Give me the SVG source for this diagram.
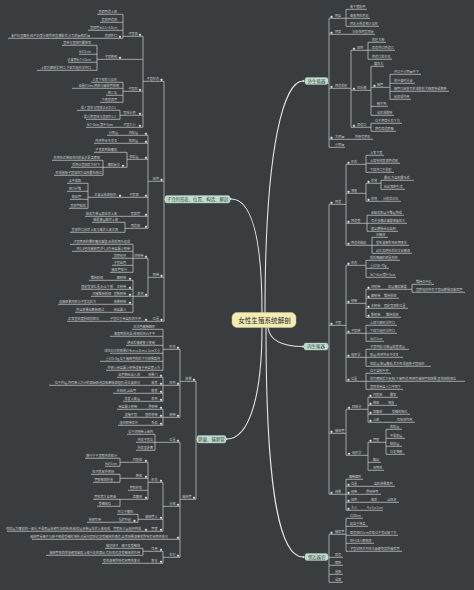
<svg xmlns="http://www.w3.org/2000/svg" width="474" height="590" viewBox="0 0 474 590">
<style>
.t{font-family:"Noto Sans CJK SC","Noto Sans",sans-serif;font-size:3.1px;fill:#c6cacb}
.e{text-anchor:end}
.d{fill:#f2f2f2;stroke:#7f8585;stroke-width:0.3}
.c{fill:none;stroke:#cdd1cf;stroke-width:0.7}
.cv{fill:none;stroke:#e2e5e3;stroke-width:1.1;stroke-linecap:round}
.b{fill:#c4dccf;stroke:#a7c6b5;stroke-width:0.4}
.bt{font-family:"Noto Sans CJK SC","Noto Sans",sans-serif;font-size:4.4px;fill:#2e4a3c;text-anchor:middle}
.m{fill:#f3ecb4;stroke:#d8cb85;stroke-width:0.5}
.mt{font-family:"Noto Sans CJK SC","Noto Sans",sans-serif;font-size:6.6px;fill:#2a2a2a;text-anchor:middle}
</style>
<rect width="474" height="590" fill="#393d40"/>
<g id="connectors">
<g id="curves">
<path class="cv" d="M265 312.5C265 140 285 81 303 81"/>
<path class="cv" d="M262 312.5C262 240 252 199 231 199"/>
<path class="cv" d="M268 327.5C270 342 285 346.5 303 346.5"/>
<path class="cv" d="M262 327.5C262 400 248 439 227 439"/>
<path class="cv" d="M266 327.5C266 470 276 557 303 557"/>
</g>
<g id="tree-lines" transform="translate(0,2.3)">
<path class="c" d="M328 81H329M329 16V145M329 16H346M346 7V24M346 7H367M346 16H370M346 24H379M329 32H375M329 86H351M351 48V125M351 48H368M368 40V57M368 40H386M368 48H395M368 57H392M351 88H371M371 64V113M371 64H384M371 85H390M390 72V97M390 72H421M390 81H415M390 89H449M390 97H411M371 104H388M371 113H394M351 125H371M371 121V129M371 121H402M371 129H396M329 137H373M329 145H345"/>
<path class="c" d="M328 344H329M329 202V492M329 202H346M346 162V243M346 162H366M366 153V170M366 153H384M366 161H400M366 170H394M346 191H366M366 181V199M366 181H381M381 178V187M381 178H414M381 187H405M366 199H401M346 221H367M367 213V229M367 213H404M367 221H407M367 229H398M346 243H372M372 235V251M372 235H388M372 243H409M372 251H412"/>
<path class="c" d="M329 323H346M346 263V379M346 263H366M366 258V275M366 258H400M366 266H389M366 275H396M346 301H366M366 287V315M366 287H412M412 282V290M412 282H434M412 290H465M366 296H399M366 306H408M366 315H401M346 331H366M366 323V339M366 323H397M366 331H397M366 339H384M346 355H366M366 347V364M366 347H409M366 355H403M366 364H431M346 379H366M366 371V387M366 371H391M366 379H465M366 387H403"/>
<path class="c" d="M329 431H346M346 407V453M346 407H368M368 395V420M368 395H398M368 403H397M368 412H410M368 420H415M346 453H368M368 440V468M368 440H386M386 427V452M386 427H402M386 436H405M386 444H402M386 452H405M368 460H381M368 468H384M329 492H346M346 477V508M346 477H363M346 484H395M346 492H381M346 500H399M346 508H383"/>
<path class="c" d="M328 555H329M329 532V580M329 532H346M346 516V549M346 516H363M346 524H368M346 533H398M346 541H374M346 549H402M329 555H343M329 563H343M329 572H343M329 580H343"/>
<path class="c" d="M164 79V319M164 197H165M143 79H164M143 34V125M123 34H143M123 12V36M97 12H123M100 20H123M88 28H123M8 36H123M97 57H143M97 43V68M62 43H97M79 52H97M68 60H97M37 68H97M123 89H143M123 80V100M91 80H123M72 86H123M106 93H123M100 100H123M120 113H143M120 108V117M77 108H120M86 117H120M86 125H143"/>
<path class="c" d="M148 179H164M148 133V226M107 133H148M94 141H148M127 157H148M127 150V165M94 150H127M103 165H127M103 158V173M52 158H103M71 165H103M54 173H103M88 195H148M88 181V206M67 181H88M67 189H88M70 197H88M69 206H88M85 214H148M125 226H148M125 220V230M92 220H125M70 230H125"/>
<path class="c" d="M148 275H164M148 256V294M133 256H148M133 242V270M70 242H133M72 249H133M112 256H133M112 263H133M110 270H133M133 294H148M133 278V310M89 278H133M81 287H133M91 294H133M58 302H133M75 310H133M67 319H164"/>
<path class="c" d="M196 379V497M196 437H197M180 379H196M180 347V415M163 347H180M163 327V368M132 327H163M110 334H163M126 343H163M110 351H163M100 359H163M106 368H163M163 383H180M163 375V399M117 375H163M49 383H163M113 391H163M123 399H163M163 415H180M163 407V423M117 407H163M123 415H163M118 423H163"/>
<path class="c" d="M180 497H196M180 440V555M155 440H180M155 432V448M127 432H155M136 440H155M136 448H155M163 504H180M163 480V529M148 480H163M148 460V497M120 460H148M120 456V464M85 456H120M105 464H120M120 476H148M120 472V480M91 472H120M93 480H120M128 488H148M120 497H148M120 497V504M93 497H120M97 504H120M138 517H163M138 512V520M117 512H138M87 520H138M7 529H163M32 537H180M163 555H180M163 549V561M143 549H163M143 546V553M105 546H143M46 553H143M102 561H163"/>
</g>
</g>

<g id="center"><rect class="m" x="232" y="312.5" width="64" height="15" rx="5"/><text class="mt" x="264.5" y="322.6">女性生殖系统解剖</text></g>

<g id="b-wsz"><rect class="b" x="305" y="77.5" width="23" height="7" rx="2"/><text class="bt" x="316.5" y="82.6">外生殖器</text><circle class="d" cx="303.5" cy="81" r="1.1"/></g>
<g id="b-nsz"><rect class="b" x="304" y="343" width="24" height="7" rx="2"/><text class="bt" x="316" y="348.1">内生殖器</text><circle class="d" cx="303" cy="346.5" r="1.1"/></g>
<g id="b-ljqg"><rect class="b" x="305" y="553.5" width="23" height="7" rx="2"/><text class="bt" x="316.5" y="558.6">邻近器官</text><circle class="d" cx="303.5" cy="557" r="1.1"/></g>
<g id="b-zg"><rect class="b" x="165" y="195.5" width="65" height="7.5" rx="2"/><text class="bt" x="197.5" y="200.8">子宫的形态、位置、构造、解剖</text><circle class="d" cx="230.5" cy="199" r="1.1"/></g>
<g id="b-lc"><rect class="b" x="197" y="435.5" width="29" height="7.5" rx="2"/><text class="bt" x="211.5" y="440.8">卵巢、输卵管</text><circle class="d" cx="226.5" cy="439" r="1.1"/></g>

<g id="n-yf"><circle class="d" cx="331.5" cy="16.8" r="1.1"/><text class="t" x="335" y="17.1">阴阜</text></g>
<g id="n-yf1"><text class="t" x="350" y="8.1">皮下脂肪厚</text></g>
<g id="n-yf2"><text class="t" x="350" y="17.1">青春期生阴毛</text></g>
<g id="n-yf3"><text class="t" x="350" y="25.1">阴毛分布呈倒三角形</text></g>
<g id="n-yd"><circle class="d" cx="331.5" cy="32.8" r="1.1"/><text class="t" x="335" y="33.1">阴蒂</text></g>
<g id="n-yd1"><text class="t" x="352" y="33.1">与男性阴茎同源</text></g>
<g id="n-ydqt"><circle class="d" cx="331.5" cy="86.8" r="1.1"/><text class="t" x="335" y="87.1">阴道前庭</text></g>
<g id="n-qt1"><circle class="d" cx="354" cy="48.8" r="1.1"/><text class="t" x="357" y="49.1">结构</text></g>
<g id="n-qt1a"><text class="t" x="372" y="41.1">前庭大腺</text></g>
<g id="n-qt1b"><text class="t" x="372" y="49.1">尿道外口阴道口</text></g>
<g id="n-qt1c"><text class="t" x="372" y="58.1">阴道口处女膜</text></g>
<g id="n-qt2"><circle class="d" cx="354" cy="88.8" r="1.1"/><text class="t" x="357" y="89.1">巴氏腺</text></g>
<g id="n-qt2a"><text class="t" x="374" y="65.1">黄豆大</text></g>
<g id="n-qt2b"><circle class="d" cx="374.5" cy="85.8" r="1.1"/><text class="t" x="377" y="86.1">腺管</text></g>
<g id="n-qt2b1"><text class="t" x="394" y="73.1">开口于小阴唇中下</text></g>
<g id="n-qt2b2"><text class="t" x="394" y="82.1">性兴奋时分泌</text></g>
<g id="n-qt2b3"><text class="t" x="394" y="90.1">腺管口闭塞可形成前庭大腺囊肿或脓肿</text></g>
<g id="n-qt2b4"><text class="t" x="394" y="98.1">起润滑作用</text></g>
<g id="n-qt2c"><text class="t" x="377" y="105.1">触不到</text></g>
<g id="n-qt2d"><text class="t" x="377" y="114.1">易形成脓肿</text></g>
<g id="n-qt3"><circle class="d" cx="354" cy="125.8" r="1.1"/><text class="t" x="357" y="126.1">尿道口</text></g>
<g id="n-qt3a"><text class="t" x="375" y="122.1">位于阴蒂头后下方</text></g>
<g id="n-qt3b"><text class="t" x="375" y="130.1">旁有尿道旁腺</text></g>
<g id="n-dyc"><circle class="d" cx="331.5" cy="137.8" r="1.1"/><text class="t" x="335" y="138.1">大阴唇</text></g>
<g id="n-dyc1"><text class="t" x="355" y="138.1">外侧有阴毛</text></g>
<g id="n-xyc"><text class="t" x="335" y="146.1">小阴唇</text></g>

<g id="n-yindao"><circle class="d" cx="331.5" cy="202.8" r="1.1"/><text class="t" x="335" y="203.1">阴道</text></g>
<g id="n-yd-xt"><circle class="d" cx="348.5" cy="162.8" r="1.1"/><text class="t" x="351" y="163.1">形态</text></g>
<g id="n-yd-xt1"><text class="t" x="370" y="154.1">上窄下宽</text></g>
<g id="n-yd-xt2"><text class="t" x="370" y="162.1">上端包绕宫颈阴道部</text></g>
<g id="n-yd-xt3"><text class="t" x="370" y="171.1">下端开口于前庭</text></g>
<g id="n-yd-ql"><circle class="d" cx="348.5" cy="191.8" r="1.1"/><text class="t" x="351" y="192.1">穹隆</text></g>
<g id="n-yd-hq"><circle class="d" cx="368.5" cy="181.8" r="1.1"/><text class="t" x="371" y="182.1">后穹</text></g>
<g id="n-yd-hq1"><text class="t" x="384" y="179.1">最深,为盆腔最低处</text></g>
<g id="n-yd-hq2"><text class="t" x="384" y="188.1">经此穿刺引流</text></g>
<g id="n-yd-qq"><circle class="d" cx="368.5" cy="199.8" r="1.1"/><text class="t" x="371" y="200.1">前穹</text></g>
<g id="n-yd-qq1"><text class="t" x="383" y="200.1">分前后左右</text></g>
<g id="n-yd-b"><circle class="d" cx="348.5" cy="221.8" r="1.1"/><text class="t" x="351" y="222.1">阴道壁</text></g>
<g id="n-yd-b1"><text class="t" x="371" y="214.1">由黏膜肌层纤维层构成</text></g>
<g id="n-yd-b2"><text class="t" x="371" y="222.1">有许多横纹皱襞伸展性大</text></g>
<g id="n-yd-b3"><text class="t" x="371" y="230.1">富含静脉丛易血肿</text></g>
<g id="n-yd-nm"><circle class="d" cx="348.5" cy="243.8" r="1.1"/><text class="t" x="351" y="244.1">阴道的黏膜</text></g>
<g id="n-yd-nm1"><text class="t" x="376" y="236.1">无腺体</text></g>
<g id="n-yd-nm2"><text class="t" x="376" y="244.1">受性激素影响周期变化</text></g>
<g id="n-yd-nm3"><text class="t" x="376" y="252.1">幼女及绝经后妇女易感染</text></g>

<g id="n-zigong"><circle class="d" cx="331.5" cy="323.8" r="1.1"/><text class="t" x="335" y="324.1">子宫</text></g>
<g id="n-zg-xt"><circle class="d" cx="348.5" cy="263.8" r="1.1"/><text class="t" x="351" y="264.1">形态</text></g>
<g id="n-zg-xt1"><text class="t" x="370" y="259.1">前后略扁的倒置梨形</text></g>
<g id="n-zg-xt2"><text class="t" x="370" y="267.1">重约50~70g</text></g>
<g id="n-zg-xt3"><text class="t" x="370" y="276.1">长7~8cm宽4~5cm</text></g>
<g id="n-zg-rd"><circle class="d" cx="348.5" cy="301.8" r="1.1"/><text class="t" x="351" y="302.1">韧带</text></g>
<g id="n-zg-kr"><circle class="d" cx="368.5" cy="287.8" r="1.1"/><text class="t" x="371" y="288.1">阔韧带</text></g>
<g id="n-zg-kr1"><text class="t" x="388" y="288.1">双层腹膜皱襞</text></g>
<g id="n-zg-kr1a"><text class="t" x="416" y="283.1">维持正中位</text></g>
<g id="n-zg-kr1b"><text class="t" x="416" y="291.1">宫旁组织内有子宫动静脉及输尿管</text></g>
<g id="n-zg-yr"><circle class="d" cx="368.5" cy="296.8" r="1.1"/><text class="t" x="371" y="297.1">圆韧带</text></g>
<g id="n-zg-yr1"><text class="t" x="384" y="297.1">维持前倾</text></g>
<g id="n-zg-zr"><circle class="d" cx="368.5" cy="306.8" r="1.1"/><text class="t" x="371" y="307.1">主韧带</text></g>
<g id="n-zg-zr1"><text class="t" x="384" y="307.1">固定宫颈的位置</text></g>
<g id="n-zg-dr"><circle class="d" cx="368.5" cy="315.8" r="1.1"/><text class="t" x="371" y="316.1">骶韧带</text></g>
<g id="n-zg-dr1"><text class="t" x="386" y="316.1">维持前倾</text></g>
<g id="n-zg-xb"><circle class="d" cx="348.5" cy="331.8" r="1.1"/><text class="t" x="351" y="332.1">子宫峡</text></g>
<g id="n-zg-xb1"><text class="t" x="370" y="324.1">上端为解剖学内口</text></g>
<g id="n-zg-xb2"><text class="t" x="370" y="332.1">下端为组织学内口</text></g>
<g id="n-zg-xb3"><text class="t" x="370" y="340.1">长约1cm</text></g>
<g id="n-zg-zz"><circle class="d" cx="348.5" cy="355.8" r="1.1"/><text class="t" x="351" y="356.1">组织学</text></g>
<g id="n-zg-zz1"><text class="t" x="370" y="348.1">子宫内膜:功能层和基底层</text></g>
<g id="n-zg-zz2"><text class="t" x="370" y="356.1">肌层:内环外纵中交叉</text></g>
<g id="n-zg-zz3"><text class="t" x="370" y="365.1">浆膜层:脏层腹膜,后方形成直肠子宫陷凹</text></g>
<g id="n-zg-wz"><circle class="d" cx="348.5" cy="379.8" r="1.1"/><text class="t" x="351" y="380.1">位置</text></g>
<g id="n-zg-wz1"><text class="t" x="370" y="372.1">位于盆腔中央</text></g>
<g id="n-zg-wz2"><text class="t" x="370" y="380.1">前为膀胱后为直肠,下接阴道,两侧有输卵管和卵巢,呈前倾前屈位</text></g>
<g id="n-zg-wz3"><text class="t" x="370" y="388.1">宫底在骨盆入口平面下</text></g>

<g id="n-shulg"><circle class="d" cx="331.5" cy="431.8" r="1.1"/><text class="t" x="335" y="432.1">输卵管</text></g>
<g id="n-sl-fb"><circle class="d" cx="349" cy="407.8" r="1.1"/><text class="t" x="352" y="408.1">四部分</text></g>
<g id="n-sl-jz"><circle class="d" cx="370.5" cy="395.8" r="1.1"/><text class="t" x="373" y="396.1">间质部</text></g>
<g id="n-sl-jz1"><text class="t" x="390" y="396.1">最窄</text></g>
<g id="n-sl-xb"><circle class="d" cx="370.5" cy="403.8" r="1.1"/><text class="t" x="373" y="404.1">峡部</text></g>
<g id="n-sl-xb1"><text class="t" x="388" y="404.1">细直</text></g>
<g id="n-sl-hf"><circle class="d" cx="370.5" cy="412.8" r="1.1"/><text class="t" x="373" y="413.1">壶腹部</text></g>
<g id="n-sl-hf1"><text class="t" x="392" y="413.1">受精的部位</text></g>
<g id="n-sl-sb"><circle class="d" cx="370.5" cy="420.8" r="1.1"/><text class="t" x="373" y="421.1">伞部</text></g>
<g id="n-sl-sb1"><text class="t" x="397" y="421.1">有拾卵作用</text></g>
<g id="n-sl-zz"><circle class="d" cx="349" cy="453.8" r="1.1"/><text class="t" x="352" y="454.1">组织学</text></g>
<g id="n-sl-gb"><circle class="d" cx="370.5" cy="440.8" r="1.1"/><text class="t" x="373" y="441.1">管壁</text></g>
<g id="n-sl-gb1"><text class="t" x="390" y="428.1">浆膜层</text></g>
<g id="n-sl-gb2"><text class="t" x="390" y="437.1">平滑肌层</text></g>
<g id="n-sl-gb3"><text class="t" x="390" y="445.1">黏膜层</text></g>
<g id="n-sl-gb4"><text class="t" x="390" y="453.1">纤毛细胞</text></g>
<g id="n-sl-rd"><text class="t" x="373" y="461.1">蠕动</text></g>
<g id="n-sl-zq"><text class="t" x="373" y="469.1">周期性</text></g>

<g id="n-luanchao"><circle class="d" cx="331.5" cy="492.8" r="1.1"/><text class="t" x="335" y="493.1">卵巢</text></g>
<g id="n-lc-xt"><text class="t" x="349" y="478.1">扁椭圆形</text></g>
<g id="n-lc-wz"><circle class="d" cx="348.5" cy="484.8" r="1.1"/><text class="t" x="351" y="485.1">位置</text></g>
<g id="n-lc-wz1"><text class="t" x="374" y="485.1">盆腔卵巢窝内</text></g>
<g id="n-lc-rd"><circle class="d" cx="348.5" cy="492.8" r="1.1"/><text class="t" x="351" y="493.1">韧带</text></g>
<g id="n-lc-rd1"><text class="t" x="366" y="493.1">悬韧带等</text></g>
<g id="n-lc-jg"><circle class="d" cx="348.5" cy="500.8" r="1.1"/><text class="t" x="351" y="501.1">结构</text></g>
<g id="n-lc-jg1"><text class="t" x="371" y="501.1">皮质</text></g>
<g id="n-lc-jg2"><text class="t" x="387" y="501.1">含卵泡</text></g>
<g id="n-lc-dx"><circle class="d" cx="348.5" cy="508.8" r="1.1"/><text class="t" x="351" y="509.1">大小</text></g>
<g id="n-lc-dx1"><text class="t" x="367" y="509.1">4×3×1cm</text></g>

<g id="n-snb"><circle class="d" cx="331.5" cy="532.8" r="1.1"/><text class="t" x="335" y="533.1">输尿管</text></g>
<g id="n-snb1"><text class="t" x="350" y="517.1">约30cm</text></g>
<g id="n-snb2"><text class="t" x="350" y="525.1">起自于肾盂</text></g>
<g id="n-snb3"><text class="t" x="350" y="534.1">距宫颈约2cm处穿过子宫动脉下方</text></g>
<g id="n-snb4"><text class="t" x="350" y="542.1">斜行进入膀胱底</text></g>
<g id="n-snb5"><text class="t" x="350" y="550.1">子宫切除术时应注意避免损伤输尿管</text></g>
<g id="n-nd"><text class="t" x="335" y="556.1">尿道</text></g>
<g id="n-pg"><text class="t" x="335" y="564.1">膀胱</text></g>
<g id="n-zc"><text class="t" x="335" y="573.1">直肠</text></g>
<g id="n-lw"><text class="t" x="335" y="581.1">阑尾</text></g>

<g id="n-zgxt"><circle class="d" cx="161.5" cy="79.8" r="1.1"/><text class="t e" x="159" y="80.1">子宫形态</text></g>
<g id="n-zgj"><circle class="d" cx="140" cy="34.8" r="1.1"/><text class="t e" x="137.5" y="35.1">子宫颈</text></g>
<g id="n-zgj1"><text class="t e" x="117" y="13.1">宫颈阴道上部</text></g>
<g id="n-zgj2"><text class="t e" x="117" y="21.1">宫颈阴道部</text></g>
<g id="n-zgj3"><text class="t e" x="117" y="29.1">宫颈管长2.5~3.0cm</text></g>
<g id="n-zgj4"><circle class="d" cx="120" cy="36.8" r="1.1"/><text class="t e" x="117" y="37.1">宫颈外口</text></g>
<g id="n-zgj4a"><text class="t e" x="90" y="37.1">未产妇呈圆形,经产妇受分娩影响呈横裂状,分为前唇和后唇</text></g>
<g id="n-xbu"><circle class="d" cx="120" cy="57.8" r="1.1"/><text class="t e" x="117" y="58.1">子宫峡部</text></g>
<g id="n-xbu1"><text class="t e" x="91" y="44.1">宫体与宫颈间最狭窄</text></g>
<g id="n-xbu2"><text class="t e" x="91" y="53.1">长约1cm</text></g>
<g id="n-xbu3"><text class="t e" x="91" y="61.1">孕末期长7~10cm</text></g>
<g id="n-xbu4"><text class="t e" x="91" y="69.1">上端为解剖学内口,下端为组织学内口</text></g>
<g id="n-gq"><circle class="d" cx="140" cy="89.8" r="1.1"/><text class="t e" x="137.5" y="90.1">子宫腔</text></g>
<g id="n-gq1"><text class="t e" x="117" y="81.1">上宽下窄的三角形</text></g>
<g id="n-gq2"><text class="t e" x="119" y="87.1">容量约5ml,两侧与输卵管相通</text></g>
<g id="n-gq3"><text class="t e" x="117" y="94.1">倒三角</text></g>
<g id="n-gq4"><text class="t e" x="117" y="101.1">下通宫颈管</text></g>
<g id="n-bl"><circle class="d" cx="140" cy="113.8" r="1.1"/><text class="t e" x="135.5" y="114.1">宫体比例</text></g>
<g id="n-bl1"><text class="t e" x="116" y="109.1">成人宫体与宫颈之比为2:1</text></g>
<g id="n-bl2"><text class="t e" x="116" y="118.1">婴儿期宫体与宫颈为1:2</text></g>
<g id="n-dxz"><circle class="d" cx="140" cy="125.8" r="1.1"/><text class="t e" x="135.5" y="126.1">子宫大小</text></g>
<g id="n-dxz1"><text class="t e" x="113" y="126.1">长7~8cm,宽4~5cm</text></g>

<g id="n-zgjg"><circle class="d" cx="161.5" cy="179.8" r="1.1"/><text class="t e" x="159" y="180.1">结构</text></g>
<g id="n-nmc"><circle class="d" cx="146" cy="133.8" r="1.1"/><text class="t e" x="138" y="134.1">内膜层</text></g>
<g id="n-nmc1"><text class="t e" x="118" y="134.1">分两层</text></g>
<g id="n-jrc"><circle class="d" cx="146" cy="141.8" r="1.1"/><text class="t e" x="138" y="142.1">肌肉层</text></g>
<g id="n-jrc1"><text class="t e" x="117" y="142.1">内环外纵中交叉</text></g>
<g id="n-jmc"><circle class="d" cx="146" cy="157.8" r="1.1"/><text class="t e" x="138.5" y="158.1">浆膜层</text></g>
<g id="n-jmc1"><text class="t e" x="117" y="151.1">子宫表面脏腹膜</text></g>
<g id="n-fmfz"><circle class="d" cx="123" cy="165.8" r="1.1"/><text class="t e" x="120" y="166.1">腹膜反折</text></g>
<g id="n-fmfz1"><text class="t e" x="100" y="159.1">前面在近峡部处向前反折覆盖膀胱</text></g>
<g id="n-fmfz2"><text class="t e" x="100" y="166.1">后面沿宫颈后方向下</text></g>
<g id="n-fmfz3"><text class="t e" x="102" y="174.1">形成直肠子宫陷凹为盆腔最低部位</text></g>
<g id="n-gjj"><circle class="d" cx="146" cy="195.8" r="1.1"/><text class="t e" x="138.5" y="196.1">子宫颈</text></g>
<g id="n-gjj1"><circle class="d" cx="120" cy="195.8" r="1.1"/><text class="t e" x="116" y="196.1">主要含结缔组织</text></g>
<g id="n-gjj1a"><text class="t e" x="81" y="182.1">含平滑肌</text></g>
<g id="n-gjj1b"><text class="t e" x="81" y="190.1">弹力纤维</text></g>
<g id="n-gjj1c"><text class="t e" x="81" y="198.1">和血管</text></g>
<g id="n-gjj1d"><text class="t e" x="86" y="207.1">宫颈管黏膜</text></g>
<g id="n-gjg"><circle class="d" cx="146" cy="214.8" r="1.1"/><text class="t e" x="140" y="215.1">宫颈管</text></g>
<g id="n-gjg1"><text class="t e" x="117" y="215.1">黏膜为单层高柱状上皮</text></g>
<g id="n-ydb"><circle class="d" cx="146" cy="226.8" r="1.1"/><text class="t e" x="140" y="227.1">阴道部</text></g>
<g id="n-ydb1"><text class="t e" x="118" y="221.1">被覆复层鳞状上皮</text></g>
<g id="n-ydb2"><text class="t e" x="118" y="231.1">宫颈外口柱状上皮与鳞状上皮交界</text></g>

<g id="n-zgrd"><circle class="d" cx="161.5" cy="275.8" r="1.1"/><text class="t e" x="159" y="276.1">韧带</text></g>
<g id="n-krd"><circle class="d" cx="146" cy="256.8" r="1.1"/><text class="t e" x="143.5" y="257.1">阔韧带</text></g>
<g id="n-krd1"><text class="t e" x="130" y="243.1">子宫两侧的翼形腹膜皱襞,由前后两叶组成</text></g>
<g id="n-krd2"><text class="t e" x="130" y="250.1">内2/3包绕输卵管,外1/3为骨盆漏斗韧带</text></g>
<g id="n-krd3"><text class="t e" x="126" y="257.1">宫旁组织</text></g>
<g id="n-krd4"><text class="t e" x="126" y="264.1">子宫血管</text></g>
<g id="n-krd5"><text class="t e" x="127" y="271.1">输尿管穿行</text></g>
<g id="n-qt"><circle class="d" cx="146" cy="294.8" r="1.1"/><text class="t e" x="143.5" y="295.1">其他</text></g>
<g id="n-qt-yr"><circle class="d" cx="130" cy="278.8" r="1.1"/><text class="t e" x="126" y="279.1">圆韧带</text></g>
<g id="n-qt-yr1"><text class="t e" x="103" y="279.1">维持前倾</text></g>
<g id="n-qt-zr"><circle class="d" cx="130" cy="287.8" r="1.1"/><text class="t e" x="126" y="288.1">主韧带</text></g>
<g id="n-qt-zr1"><text class="t e" x="113" y="288.1">固定宫颈位置,防止下垂</text></g>
<g id="n-qt-dr"><circle class="d" cx="130" cy="294.8" r="1.1"/><text class="t e" x="126" y="295.1">宫骶韧带</text></g>
<g id="n-qt-dr1"><text class="t e" x="111" y="295.1">间接维持前倾</text></g>
<g id="n-qt-lr"><circle class="d" cx="130" cy="302.8" r="1.1"/><text class="t e" x="126" y="303.1">卵巢韧带</text></g>
<g id="n-qt-lr1"><text class="t e" x="96" y="303.1">连接卵巢内侧与子宫角后方</text></g>
<g id="n-qt-gp"><text class="t e" x="126" y="311.1">骨盆漏斗</text></g>
<g id="n-qt-gp1"><text class="t e" x="104" y="311.1">内含卵巢动静脉通过</text></g>
<g id="n-zgwz"><circle class="d" cx="161.5" cy="319.8" r="1.1"/><text class="t e" x="159" y="320.1">位置</text></g>
<g id="n-zgwz1"><circle class="d" cx="146" cy="319.8" r="1.1"/><text class="t e" x="141" y="320.1">子宫位于骨盆腔的中央</text></g>
<g id="n-zgwz1a"><text class="t e" x="99" y="320.1">正常呈轻度前倾前屈位</text></g>

<g id="n-lcl"><circle class="d" cx="194" cy="379.8" r="1.1"/><text class="t e" x="191.5" y="380.1">卵巢</text></g>
<g id="n-lcl-xt"><circle class="d" cx="178" cy="347.8" r="1.1"/><text class="t e" x="175.5" y="348.1">形态</text></g>
<g id="n-lcl-xt1"><text class="t e" x="155" y="328.1">灰白色扁椭圆形</text></g>
<g id="n-lcl-xt2"><text class="t e" x="155" y="335.1">青春期前光滑,排卵后凹凸不平</text></g>
<g id="n-lcl-xt3"><text class="t e" x="155" y="344.1">绝经后萎缩变小变硬</text></g>
<g id="n-lcl-xt4"><text class="t e" x="160" y="352.1">成年妇女的卵巢约4cm×3cm×1cm大小</text></g>
<g id="n-lcl-xt5"><text class="t e" x="160" y="360.1">重约5~6g,位于输卵管的后下方卵巢窝内</text></g>
<g id="n-lcl-xt6"><text class="t e" x="160" y="369.1">外侧以骨盆漏斗韧带连接于骨盆壁上方</text></g>
<g id="n-lcl-jg"><circle class="d" cx="178" cy="383.8" r="1.1"/><text class="t e" x="175.5" y="384.1">结构</text></g>
<g id="n-lcl-lcm"><circle class="d" cx="161" cy="375.8" r="1.1"/><text class="t e" x="157.5" y="376.1">卵巢门</text></g>
<g id="n-lcl-lcm1"><text class="t e" x="140" y="376.1">血管神经出入处</text></g>
<g id="n-lcl-pz"><circle class="d" cx="161" cy="383.8" r="1.1"/><text class="t e" x="157.5" y="384.1">皮质</text></g>
<g id="n-lcl-pz1"><text class="t e" x="140" y="384.1">位于外层,内有数以万计的原始卵泡及致密结缔组织,是主要部分</text></g>
<g id="n-lcl-sz"><circle class="d" cx="161" cy="391.8" r="1.1"/><text class="t e" x="157.5" y="392.1">髓质</text></g>
<g id="n-lcl-sz1"><text class="t e" x="136" y="392.1">无卵泡,含血管</text></g>
<g id="n-lcl-bm"><circle class="d" cx="161" cy="399.8" r="1.1"/><text class="t e" x="157.5" y="400.1">表面</text></g>
<g id="n-lcl-bm1"><text class="t e" x="140" y="400.1">生发上皮层</text></g>
<g id="n-lcl-rd"><circle class="d" cx="178" cy="415.8" r="1.1"/><text class="t e" x="175.5" y="416.1">韧带</text></g>
<g id="n-lcl-xr"><circle class="d" cx="161" cy="407.8" r="1.1"/><text class="t e" x="157.5" y="408.1">悬韧带</text></g>
<g id="n-lcl-xr1"><text class="t e" x="137" y="408.1">骨盆漏斗韧带</text></g>
<g id="n-lcl-gy"><circle class="d" cx="161" cy="415.8" r="1.1"/><text class="t e" x="157.5" y="416.1">固有韧带</text></g>
<g id="n-lcl-gy1"><text class="t e" x="137" y="416.1">连接子宫</text></g>
<g id="n-lcl-xm"><circle class="d" cx="161" cy="423.8" r="1.1"/><text class="t e" x="157.5" y="424.1">系膜</text></g>
<g id="n-lcl-xm1"><text class="t e" x="138" y="424.1">连阔韧带后叶</text></g>

<g id="n-slg"><circle class="d" cx="194" cy="497.8" r="1.1"/><text class="t e" x="191.5" y="498.1">输卵管</text></g>
<g id="n-slg-wz"><circle class="d" cx="178" cy="440.8" r="1.1"/><text class="t e" x="175.5" y="441.1">位置</text></g>
<g id="n-slg-wz1"><text class="t e" x="153" y="433.1">位于阔韧带上缘内</text></g>
<g id="n-slg-wz2"><text class="t e" x="153" y="441.1">内连子宫角</text></g>
<g id="n-slg-wz3"><text class="t e" x="153" y="449.1">外端呈游离</text></g>
<g id="n-slg-fb"><circle class="d" cx="178" cy="504.8" r="1.1"/><text class="t e" x="175.5" y="505.1">分部</text></g>
<g id="n-slg-xt"><circle class="d" cx="161" cy="480.8" r="1.1"/><text class="t e" x="157.5" y="481.1">形态</text></g>
<g id="n-slg-jz"><circle class="d" cx="146" cy="460.8" r="1.1"/><text class="t e" x="142" y="461.1">间质部</text></g>
<g id="n-slg-jz1"><text class="t e" x="117" y="457.1">潜行于子宫壁内的部分</text></g>
<g id="n-slg-jz2"><text class="t e" x="117" y="465.1">长约1cm</text></g>
<g id="n-slg-xb"><circle class="d" cx="146" cy="476.8" r="1.1"/><text class="t e" x="142" y="477.1">峡部</text></g>
<g id="n-slg-xb1"><text class="t e" x="114" y="473.1">在间质部外侧段</text></g>
<g id="n-slg-xb2"><text class="t e" x="113" y="481.1">管腔细而较直</text></g>
<g id="n-slg-gq"><text class="t e" x="142" y="489.1">管腔较窄</text></g>
<g id="n-slg-hf"><circle class="d" cx="146" cy="497.8" r="1.1"/><text class="t e" x="142" y="498.1">壶腹部</text></g>
<g id="n-slg-hf1"><text class="t e" x="116" y="498.1">管腔宽大且弯曲</text></g>
<g id="n-slg-hf2"><text class="t e" x="111" y="505.1">受精部位</text></g>
<g id="n-slg-s"><circle class="d" cx="161" cy="517.8" r="1.1"/><text class="t e" x="157.5" y="518.1">输卵管伞</text></g>
<g id="n-slg-s1"><text class="t e" x="133" y="513.1">开口于腹腔</text></g>
<g id="n-slg-s2"><circle class="d" cx="134.5" cy="520.8" r="1.1"/><text class="t e" x="131" y="521.1">指状突起</text></g>
<g id="n-slg-s2a"><text class="t e" x="101" y="521.1">拾卵作用</text></g>
<g id="n-slg-gb"><circle class="d" cx="161" cy="529.8" r="1.1"/><text class="t e" x="157.5" y="530.1">管壁</text></g>
<g id="n-slg-gb1"><circle class="d" cx="146" cy="529.8" r="1.1"/><text class="t e" x="141" y="530.1">管壁由三层组织构成</text></g>
<g id="n-slg-gb1a"><text class="t e" x="110" y="530.1">浆膜层为腹膜的一部分,平滑肌层收缩可协助拾卵,黏膜层由单层柱状上皮组成</text></g>
<g id="n-slg-gn"><circle class="d" cx="178" cy="537.8" r="1.1"/><text class="t e" x="168" y="538.1">输卵管是精子与卵子相遇受精的场所,也是向宫腔运送受精卵的通道,且受卵巢激素的影响有周期性变化</text></g>
<g id="n-slg-sl"><circle class="d" cx="178" cy="555.8" r="1.1"/><text class="t e" x="175.5" y="556.1">生理</text></g>
<g id="n-slg-zy"><circle class="d" cx="161" cy="549.8" r="1.1"/><text class="t e" x="157.5" y="550.1">作用</text></g>
<g id="n-slg-zy1"><text class="t e" x="140" y="547.1">输送卵子、精子及受精卵</text></g>
<g id="n-slg-zy2"><text class="t e" x="140" y="554.1">输卵管肌肉的收缩和黏膜上皮纤毛的摆动,有协助运送受精卵的作用</text></g>
<g id="n-slg-bh"><circle class="d" cx="161" cy="561.8" r="1.1"/><text class="t e" x="157.5" y="562.1">变化</text></g>
<g id="n-slg-bh1"><text class="t e" x="140" y="562.1">受性激素影响有周期性变化</text></g>
</svg>
